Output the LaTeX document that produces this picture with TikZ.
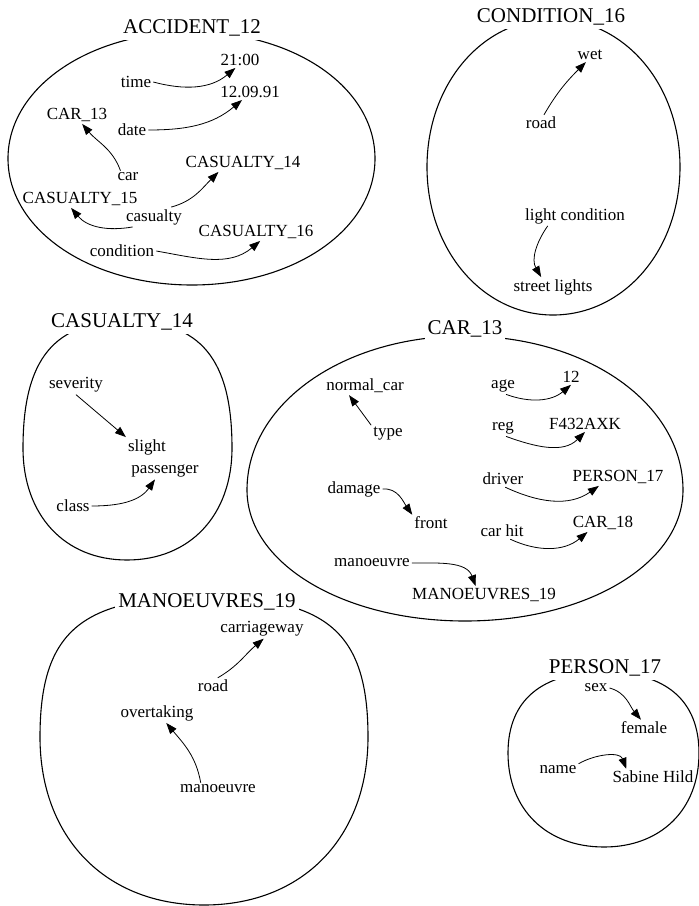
\documentclass[tikz,border=0pt]{standalone}
\usepackage{fontspec}
\setmainfont{Liberation Serif}
\usetikzlibrary{arrows.meta}

% closed oval: centre (#1,#2), left/right/top/bottom radii #3..#6,
% curvature of upper half #7 and of lower half #8
\newcommand\ovalframe[8]{%
  \draw[frameline] ({#1+#4},{#2})
    .. controls ({#1+#4},{#2+#7*#5}) and ({#1+#7*#4},{#2+#5}) .. ({#1},{#2+#5})
    .. controls ({#1-#7*#3},{#2+#5}) and ({#1-#3},{#2+#7*#5}) .. ({#1-#3},{#2})
    .. controls ({#1-#3},{#2-#8*#6}) and ({#1-#8*#3},{#2-#6}) .. ({#1},{#2-#6})
    .. controls ({#1+#8*#4},{#2-#6}) and ({#1+#4},{#2-#8*#6}) .. cycle;}

\tikzset{
  frameline/.style={line width=1.1pt},
  framename/.style={font=\fontsize{21}{21}\selectfont, fill=white, anchor=base,
                    inner xsep=3pt, inner ysep=4pt},
  lbl/.style={font=\fontsize{17}{17}\selectfont, inner sep=2pt},
  link/.style={line width=0.8pt, -{Triangle[length=11pt,width=8pt]}},
}

\begin{document}
\begin{tikzpicture}[x=1pt,y=1pt]
\useasboundingbox (0,0) rectangle (699,-906);

% frames
\ovalframe{192}{-158.5}{184}{183}{126.5}{126.5}{0.56}{0.56}
\ovalframe{553}{-167}{126}{127}{148}{148}{0.56}{0.56}
\ovalframe{127}{-448}{104}{105}{127}{112}{0.7}{0.6}
\ovalframe{465}{-490}{218}{218}{154}{131}{0.56}{0.56}
\ovalframe{204}{-737}{164}{164}{140}{168}{0.75}{0.6}
\ovalframe{604}{-753}{96}{95}{81}{94}{0.65}{0.6}

% frame names
\node[framename] (tAcc)  at (192,-33.5) {ACCIDENT\_12};
\node[framename] (tCond) at (551,-22.5) {CONDITION\_16};
\node[framename] (tCas)  at (122,-327)  {CASUALTY\_14};
\node[framename] (tCar)  at (465,-334)  {CAR\_13};
\node[framename] (tMan)  at (207,-607)  {MANOEUVRES\_19};
\node[framename] (tPer)  at (605,-673)  {PERSON\_17};

% ACCIDENT_12
\node[lbl] (t2100)   at (240,-60)  {21:00};
\node[lbl] (time)    at (136,-82)  {time};
\node[lbl] (d120991) at (250,-92)  {12.09.91};
\node[lbl] (car13)   at (77,-115)  {CAR\_13};
\node[lbl] (date)    at (132,-130) {date};
\node[lbl] (cas14)   at (243,-163) {CASUALTY\_14};
\node[lbl] (car)     at (128,-177) {car};
\node[lbl] (cas15)   at (80,-199)  {CASUALTY\_15};
\node[lbl] (casualty) at (154,-217) {casualty};
\node[lbl] (cas16)   at (256,-232) {CASUALTY\_16};
\node[lbl] (cond)    at (122,-251) {condition};

\draw[link] (time.east) to[out=-15,in=220] (t2100.-120);
\draw[link] (date.east) to[out=0,in=220] (d120991.-135);
\draw[link] (car.140) to[out=110,in=-50] (car13.-60);
\draw[link] (casualty.30) to[out=15,in=225] (cas14.-160);
\draw[link] (casualty.-155) to[out=190,in=-50] (cas15.-135);
\draw[link] (cond.east) to[out=-10,in=220] (cas16.-65);

% CONDITION_16
\node[lbl] (wet)     at (590,-55)  {wet};
\node[lbl] (road1)   at (541,-123) {road};
\node[lbl] (lightc)  at (575,-216) {light condition};
\node[lbl] (streetl) at (553,-287) {street lights};

\draw[link] (road1.70) to[out=60,in=225] (wet.-120);
\draw[link] (lightc.-160) to[out=235,in=120] (streetl.140);

% CASUALTY_14
\node[lbl] (severity)  at (76,-385)  {severity};
\node[lbl] (slight)    at (147,-447) {slight};
\node[lbl] (passenger) at (165,-471) {passenger};
\node[lbl] (class)     at (73,-506)  {class};

\draw[link] (severity.south) -- (slight.north west);
\draw[link] (class.east) to[out=0,in=235] (passenger.-140);

% CAR_13
\node[lbl] (normalcar) at (365,-386) {normal\_car};
\node[lbl] (age)       at (503,-386) {age};
\node[lbl] (n12)       at (571,-377) {12};
\node[lbl] (type)      at (388,-434) {type};
\node[lbl] (reg)       at (503,-428) {reg};
\node[lbl] (f432)      at (585,-424) {F432AXK};
\node[lbl] (damage)    at (354,-489) {damage};
\node[lbl] (driver)    at (503,-479) {driver};
\node[lbl] (p17)       at (618,-477) {PERSON\_17};
\node[lbl] (front)     at (431,-523) {front};
\node[lbl] (carhit)    at (502,-531) {car hit};
\node[lbl] (car18)     at (603,-523) {CAR\_18};
\node[lbl] (manv1)     at (372,-563) {manoeuvre};
\node[lbl] (m19)       at (484,-595) {MANOEUVRES\_19};

\draw[link] (type.north west) -- (normalcar.-150);
\draw[link] (age.-70) to[out=-20,in=220] (n12.south);
\draw[link] (reg.-70) to[out=-20,in=225] (f432.south);
\draw[link] (driver.-75) to[out=-25,in=215] (p17.-155);
\draw[link] (carhit.-45) to[out=-25,in=220] (car18.-150);
\draw[link] (damage.east) to[out=5,in=125] (front.north west);
\draw[link] (manv1.east) to[out=0,in=110] (m19.133);

% MANOEUVRES_19
\node[lbl] (carriage)   at (262,-629) {carriageway};
\node[lbl] (road2)      at (213,-686) {road};
\node[lbl] (overtaking) at (157,-713) {overtaking};
\node[lbl] (manv2)      at (218,-789) {manoeuvre};

\draw[link] (road2.60) to[out=30,in=220] (carriage.-80);
\draw[link] (manv2.160) to[out=100,in=-50] (overtaking.-47);

% PERSON_17
\node[lbl] (sex)    at (596,-688) {sex};
\node[lbl] (female) at (644,-728) {female};
\node[lbl] (name)   at (558,-770) {name};
\node[lbl] (sabine) at (653,-777) {Sabine Hild};

\draw[link] (sex.east) to[out=-15,in=130] (female.110);
\draw[link] (name.north east) to[out=30,in=110] (sabine.163);
\end{tikzpicture}
\end{document}
